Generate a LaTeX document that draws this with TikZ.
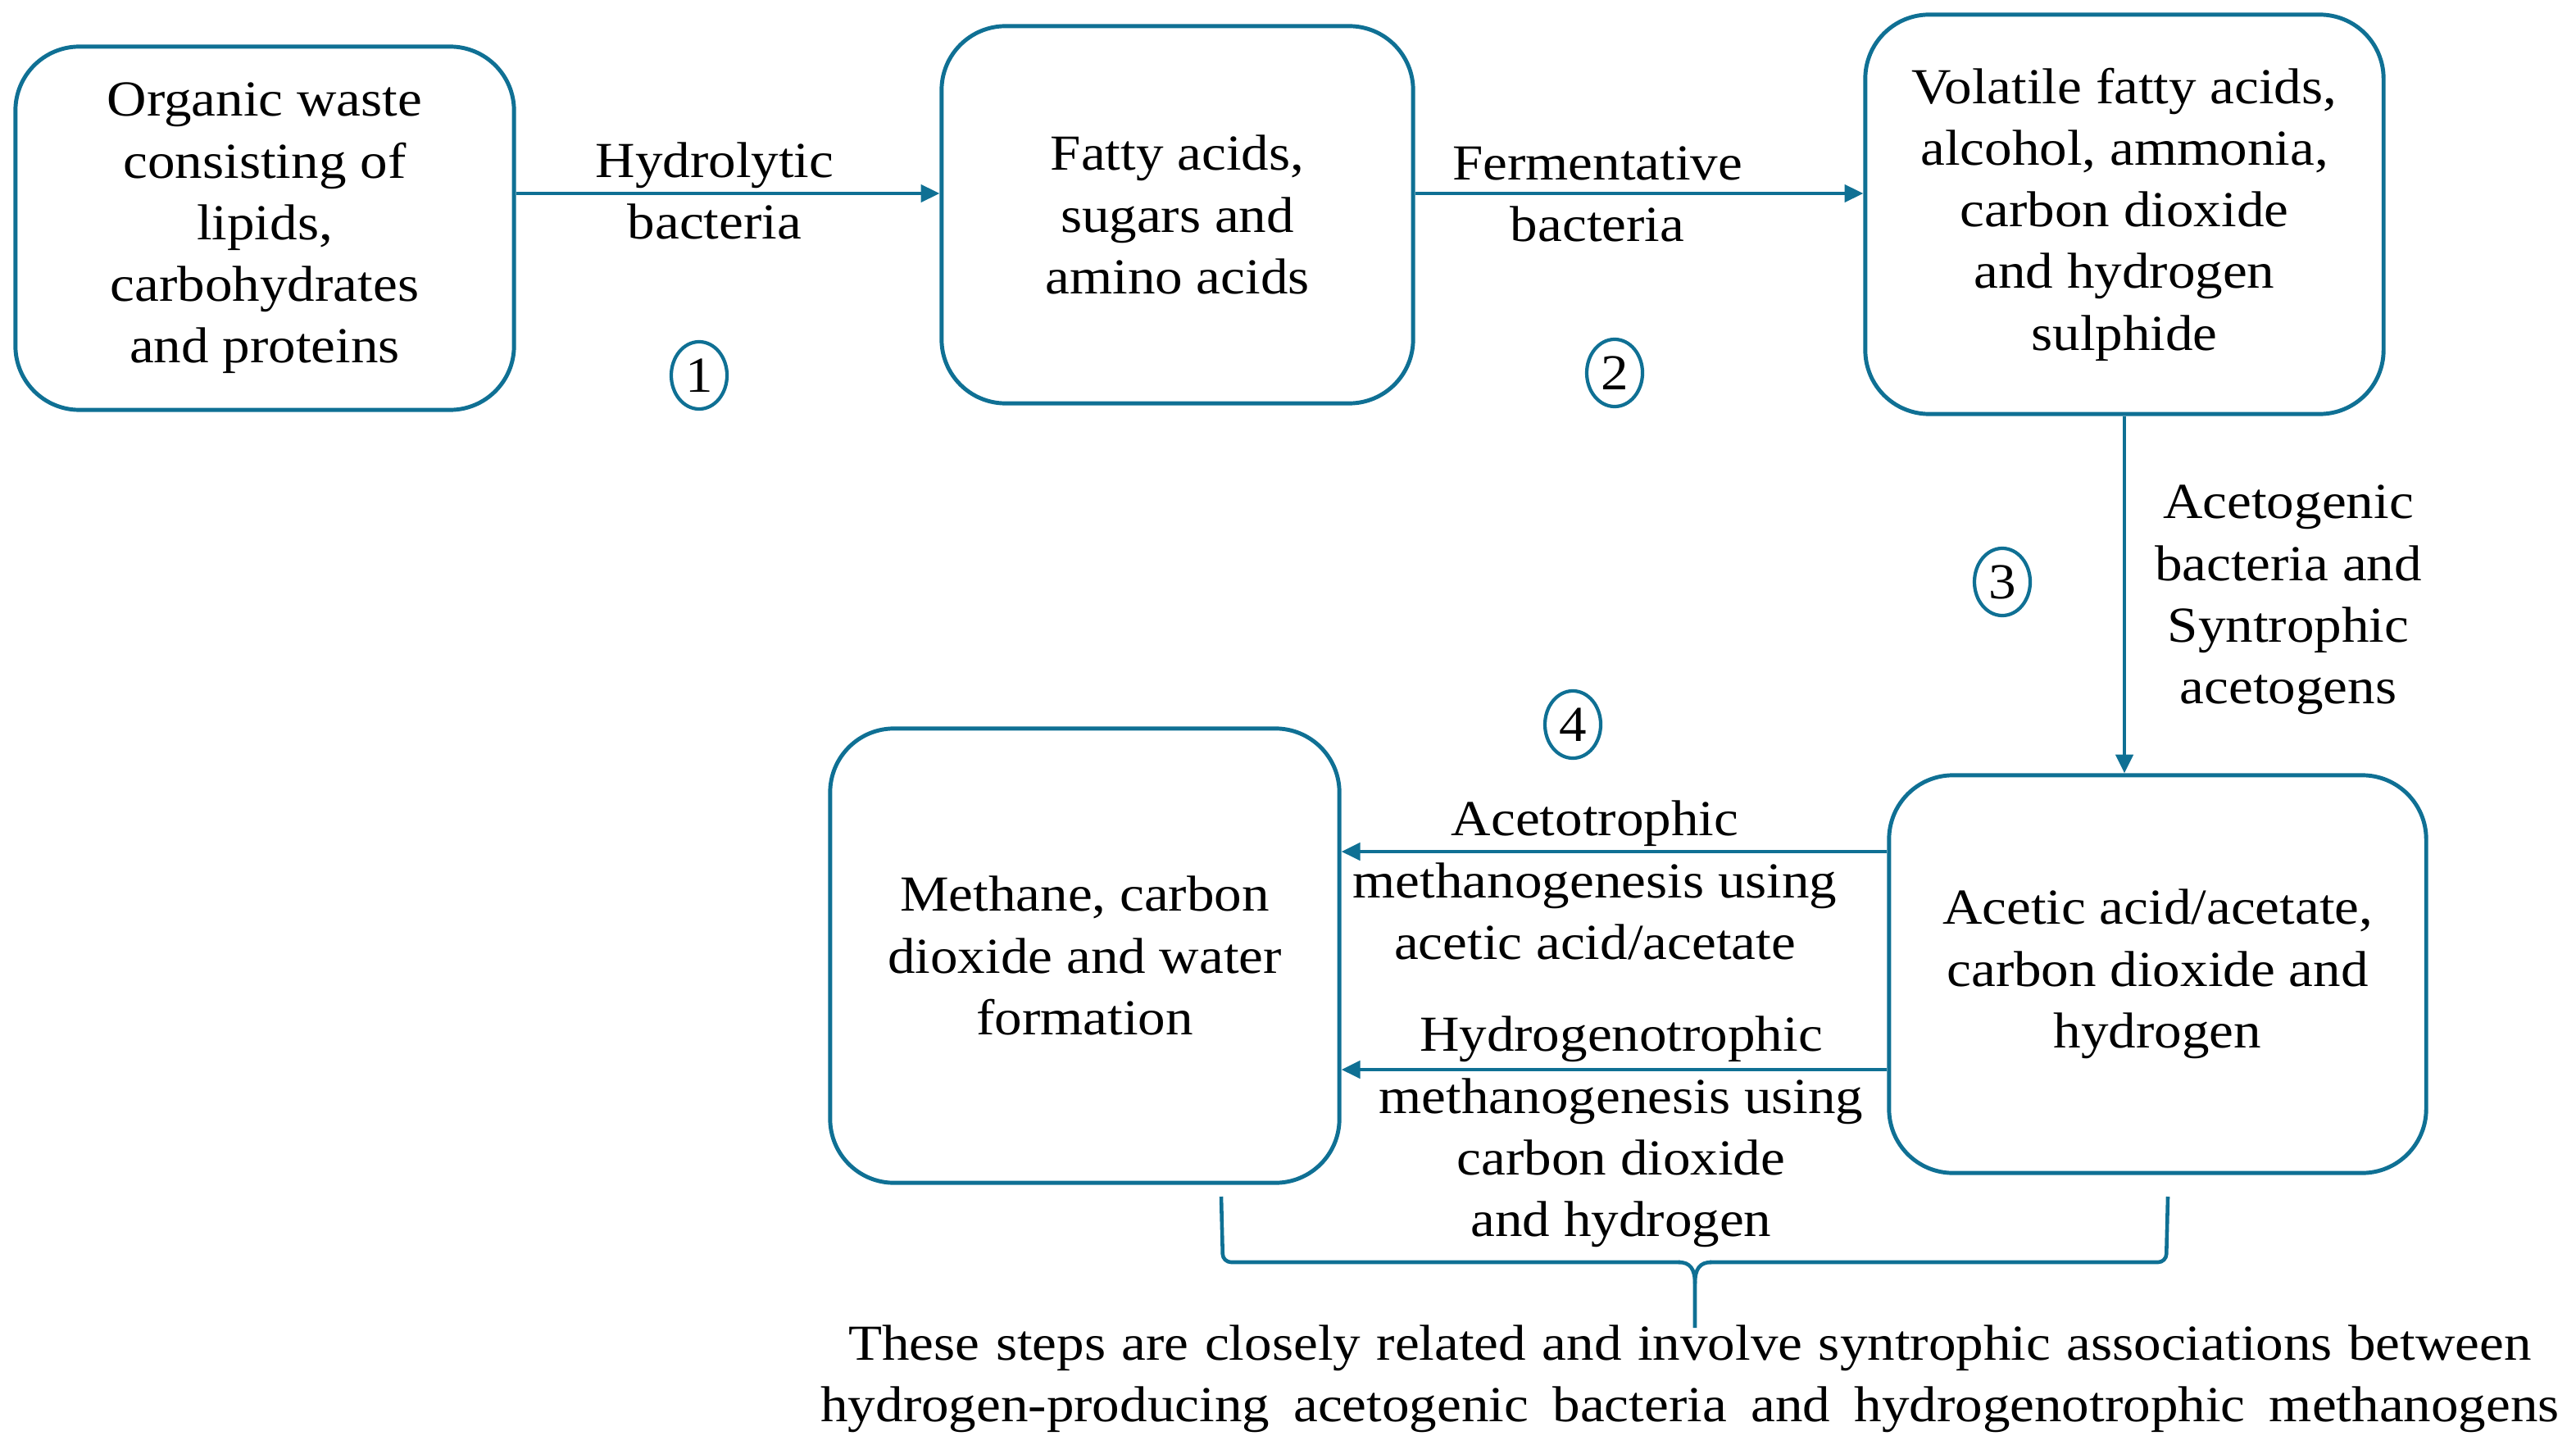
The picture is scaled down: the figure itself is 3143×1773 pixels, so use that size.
\documentclass[tikz,border=0pt]{standalone}
\usepackage{fontspec}
\setmainfont{Liberation Serif}[FakeStretch=1.09]
\usetikzlibrary{arrows.meta,shapes.geometric}
\definecolor{teal1}{RGB}{15,112,148}
\begin{document}
\begin{tikzpicture}[x=0.01cm,y=-0.01cm,
  font=\fontsize{17.5}{21.4}\selectfont,
  box/.style={draw=teal1, line width=1.4pt, rounded corners=0.78cm, align=center, inner sep=0pt},
  arr/.style={draw=teal1, line width=1.25pt, -{Triangle[length=6.5pt,width=6pt]}},
  lbl/.style={align=center, inner sep=0pt},
  num/.style={draw=teal1, line width=1.2pt, ellipse, minimum width=0.68cm, minimum height=0.82cm, inner sep=0pt},
  brc/.style={draw=teal1, line width=1.3pt}]
\useasboundingbox (0,0) rectangle (3143,1773);

% boxes
\node[box, minimum width=6.08cm, minimum height=4.43cm] (b1) at (323,278.5)
  {Organic waste\\consisting of\\lipids,\\carbohydrates\\and proteins};
\node[box, minimum width=5.75cm, minimum height=4.60cm] (b2) at (1436.5,262)
  {Fatty acids,\\sugars and\\amino acids};
\node[box, minimum width=6.32cm, minimum height=4.87cm] (b3) at (2592,261.5)
  {Volatile fatty acids,\\alcohol, ammonia,\\carbon dioxide\\and hydrogen\\sulphide};
\node[box, minimum width=6.55cm, minimum height=4.85cm] (b4) at (2632.5,1188.5)
  {Acetic acid/acetate,\\carbon dioxide and\\hydrogen};
\node[box, minimum width=6.21cm, minimum height=5.54cm] (b5) at (1323.5,1166)
  {Methane, carbon\\dioxide and water\\formation};

% connectors
\draw[arr] (b1.east |- 0,236) -- (b2.west |- 0,236);
\draw[arr] (b2.east |- 0,236) -- (b3.west |- 0,236);
\draw[arr] (b3.south) -- (b3.south |- b4.north);
\draw[arr] (b4.west |- 0,1039) -- (b5.east |- 0,1039);
\draw[arr] (b4.west |- 0,1305) -- (b5.east |- 0,1305);

% labels
\node[lbl] (l1) at (872,233) {Hydrolytic\\bacteria};
\node[lbl] (l2) at (1949,237) {Fermentative\\bacteria};
\node[lbl] (l3) at (2792,732) {Acetogenic\\bacteria and\\Syntrophic\\acetogens};
\node[lbl] (l4) at (1946,1074) {Acetotrophic\\methanogenesis using\\acetic acid/acetate};
\node[lbl] (l5) at (1978,1381) {Hydrogenotrophic\\methanogenesis using\\carbon dioxide\\and hydrogen};

% step numbers
\node[num] (n1) at (853,458) {1};
\node[num] (n2) at (1970,455) {2};
\node[num] (n3) at (2443,710) {3};
\node[num] (n4) at (1919,884) {4};

% brace
\coordinate (bl) at (1490,1460);
\coordinate (br) at (2645,1460);
\coordinate (bt) at (2068,1620);
\draw[brc, rounded corners=0.1cm] (bl) -- (1492,1540) -- (2050,1540);
\draw[brc, rounded corners=0.1cm] (br) -- (2643,1540) -- (2086,1540);
\draw[brc] (2048,1540) .. controls (2062,1540) and (2068,1548) .. (2068,1566) -- (bt);
\draw[brc] (2088,1540) .. controls (2074,1540) and (2068,1548) .. (2068,1566);

% bottom text
\node[lbl] (t) at (2062,1682) {\makebox[20.52cm][s]{These steps are closely related and involve syntrophic associations between}\\\makebox[21.2cm][s]{hydrogen-producing acetogenic bacteria and hydrogenotrophic methanogens}};
\end{tikzpicture}
\end{document}
